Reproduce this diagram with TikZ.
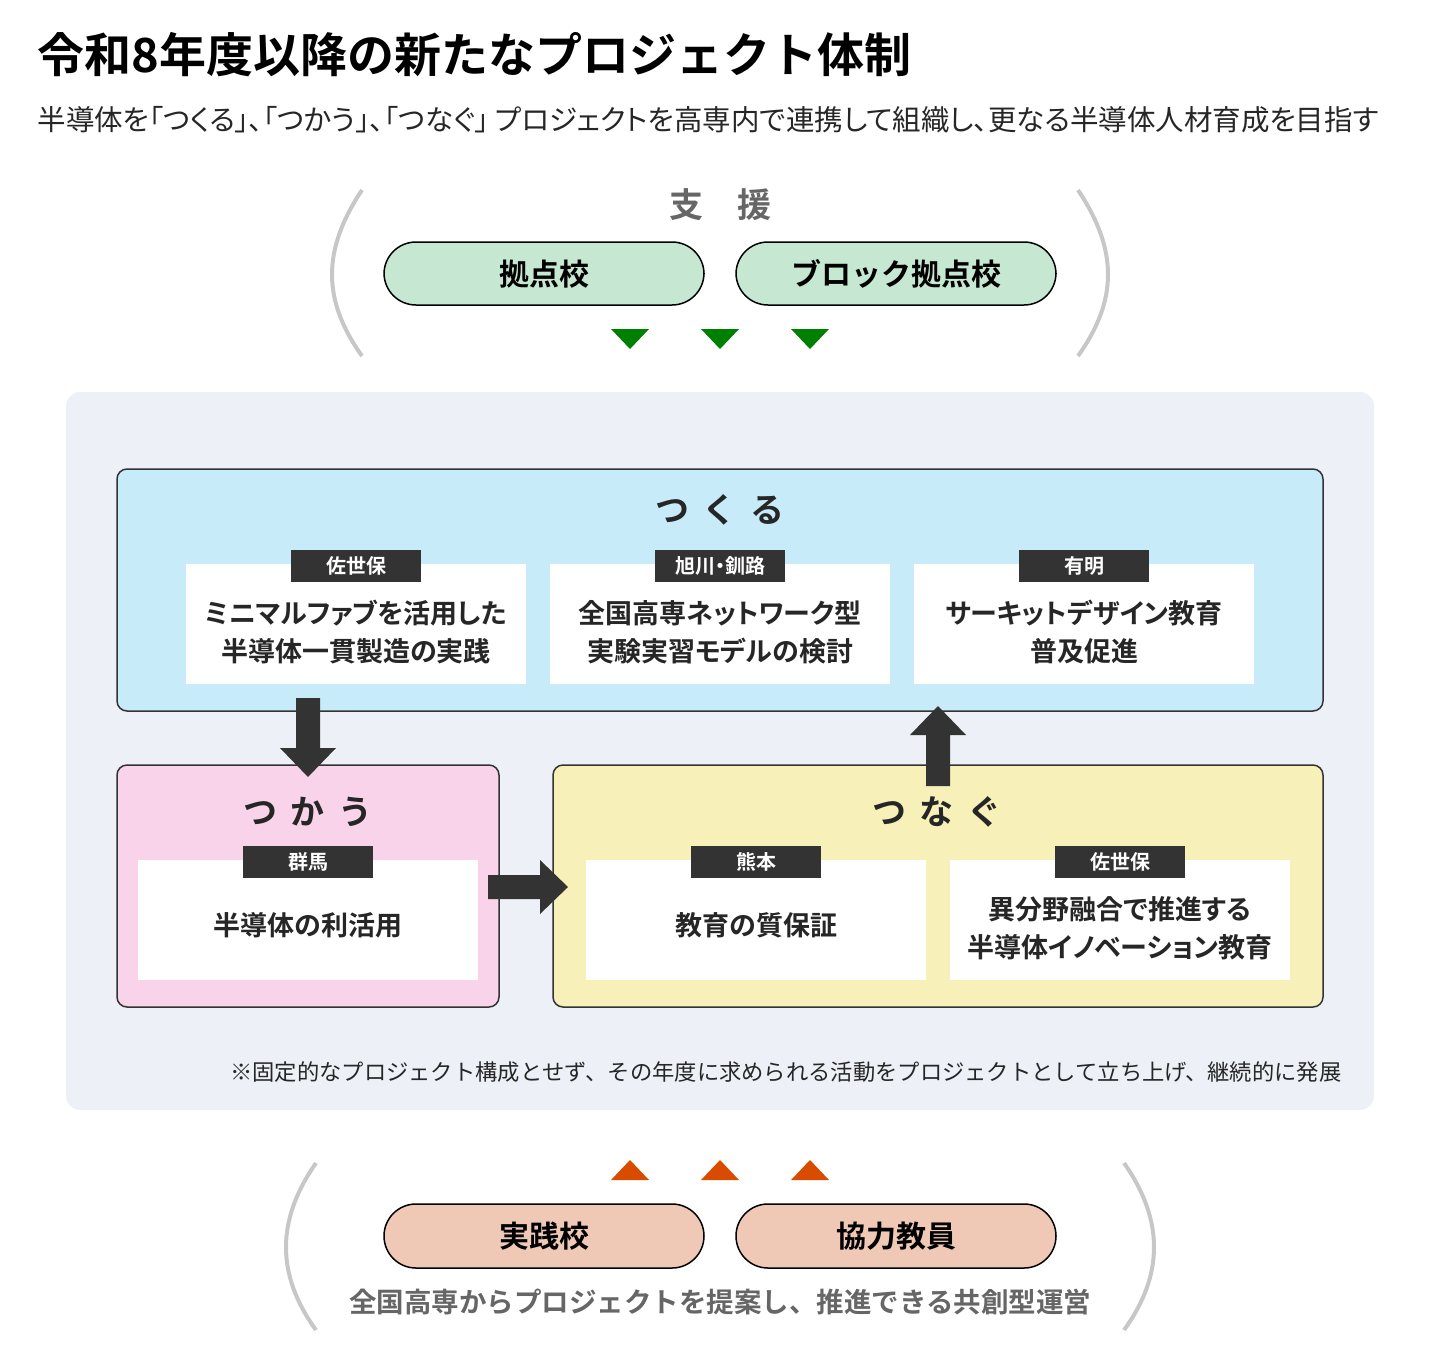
\documentclass[tikz,border=0pt]{standalone}
\usepackage{fontspec}
\setmainfont{Noto Sans CJK JP}
\newfontfamily\jpp{Noto Sans CJK JP}[RawFeature=+palt]
\newfontfamily\jpb{Noto Sans CJK JP Bold}[RawFeature=+palt]
\newfontfamily\jpbn{Noto Sans CJK JP Bold}
\definecolor{panel}{HTML}{EDF0F7}
\definecolor{cyanbg}{HTML}{C8EBF9}
\definecolor{pinkbg}{HTML}{F9D3EA}
\definecolor{yelbg}{HTML}{F7F0B9}
\definecolor{grnbg}{HTML}{C6E8D2}
\definecolor{orgbg}{HTML}{EFC9B6}
\begin{document}
\begin{tikzpicture}[x=1pt,y=-1pt,
  pill/.style={draw=black,line width=1.5pt,rounded corners=32pt},
  pilltxt/.style={font=\jpbn\fontsize{30}{30}\selectfont},
  group/.style={draw=black!80,line width=1.5pt,rounded corners=10pt},
  wbox/.style={fill=white},
  tag/.style={fill=black!80,text=white,font=\jpb\fontsize{20}{20}\selectfont,minimum width=130pt,minimum height=32pt,inner sep=0pt},
  btxt/.style={font=\jpbn\fontsize{27}{38}\selectfont,align=center,text=black!85},
  ttl/.style={font=\jpbn\fontsize{34}{34}\selectfont,text=black!85},
  paren/.style={draw=black!22,line width=4pt},
  barrow/.style={fill=black!80}]
\useasboundingbox (0,0) rectangle (1440,1360);
\node[anchor=west,font=\jpbn\fontsize{47}{47}\selectfont] (title) at (34,55) {令和8年度以降の新たなプロジェクト体制};
\node[anchor=west,font=\jpp\fontsize{28.5}{28.5}\selectfont,text=black!85] (sub) at (34,120) {半導体を「つくる」、「つかう」、「つなぐ」 プロジェクトを高専内で連携して組織し、更なる半導体人材育成を目指す};
% support
\node[ttl,text=black!60] (shien) at (720,205) {支\hspace{1em}援};
\draw[paren] (362,190) .. controls (322,250) and (322,300) .. (362,356);
\draw[paren] (1078,190) .. controls (1118,250) and (1118,300) .. (1078,356);
\draw[pill,fill=grnbg] (384,242) rectangle (704,305);
\node[pilltxt] (k1) at (544,274) {拠点校};
\draw[pill,fill=grnbg] (736,242) rectangle (1056,305);
\node[pilltxt] (k2) at (896,274) {ブロック拠点校};
\foreach \x in {630,720,810}
  \fill[green!50!black] (\x-19,329) -- (\x+19,329) -- (\x,349) -- cycle;
% panel
\fill[rounded corners=14pt,fill=panel] (66,392) rectangle (1374,1110);
% tsukuru
\draw[group,fill=cyanbg] (117,469) rectangle (1323,711);
\node[ttl] (tk) at (720,510) {つ\hspace{0.4em}く\hspace{0.4em}る};
\foreach \x/\t/\l [count=\i] in {356/{ミニマルファブを活用した\\半導体一貫製造の実践}/佐世保,720/{全国高専ネットワーク型\\実験実習モデルの検討}/旭川・釧路,1084/{サーキットデザイン教育\\普及促進}/有明}{
  \fill[wbox] (\x-170,564) rectangle (\x+170,684);
  \node[btxt,font=\jpb\fontsize{27}{38}\selectfont] (tkb\i) at (\x,632) {\t};
  \node[tag] (tkt\i) at (\x,566) {\l};
}
% tsukau
\draw[group,fill=pinkbg] (117,765) rectangle (499,1007);
\node[ttl] (tu) at (308,812) {つ\hspace{0.4em}か\hspace{0.4em}う};
\fill[wbox] (138,860) rectangle (478,980);
\node[btxt] (tub) at (308,925) {半導体の利活用};
\node[tag] (tut) at (308,862) {群馬};
% tsunagu
\draw[group,fill=yelbg] (553,765) rectangle (1323,1007);
\node[ttl] (tn) at (937,812) {つ\hspace{0.4em}な\hspace{0.4em}ぐ};
\fill[wbox] (586,860) rectangle (926,980);
\node[btxt] (tnb1) at (756,925) {教育の質保証};
\node[tag] (tnt1) at (756,862) {熊本};
\fill[wbox] (950,860) rectangle (1290,980);
\node[btxt,font=\jpb\fontsize{27}{38}\selectfont] (tnb2) at (1120,928) {異分野融合で推進する\\半導体イノベーション教育};
\node[tag] (tnt2) at (1120,862) {佐世保};
% block arrows
\fill[barrow] (296,698) -- (320,698) -- (320,748) -- (336,748) -- (308,777) -- (280,748) -- (296,748) -- cycle;
\fill[barrow] (488,875) -- (540,875) -- (540,860) -- (568,887) -- (540,914) -- (540,899) -- (488,899) -- cycle;
\fill[barrow] (926,786) -- (950,786) -- (950,735) -- (966,735) -- (938,706) -- (910,735) -- (926,735) -- cycle;
\node[anchor=east,font=\fontsize{22.3}{22.3}\selectfont,text=black!85] (note) at (1345,1072) {※固定的なプロジェクト構成とせず、その年度に求められる活動をプロジェクトとして立ち上げ、継続的に発展};
% bottom
\foreach \x in {630,720,810}
  \fill[orange!70!red!85!black] (\x-19,1180) -- (\x+19,1180) -- (\x,1160) -- cycle;
\draw[paren] (316,1163) .. controls (276,1220) and (276,1275) .. (316,1330);
\draw[paren] (1124,1163) .. controls (1164,1220) and (1164,1275) .. (1124,1330);
\draw[pill,fill=orgbg] (384,1204) rectangle (704,1268);
\node[pilltxt] (b1) at (544,1236) {実践校};
\draw[pill,fill=orgbg] (736,1204) rectangle (1056,1268);
\node[pilltxt] (b2) at (896,1236) {協力教員};
\node[font=\jpbn\fontsize{27.5}{27.5}\selectfont,text=black!60] (bt) at (720,1302) {全国高専からプロジェクトを提案し、推進できる共創型運営};
\end{tikzpicture}
\end{document}
